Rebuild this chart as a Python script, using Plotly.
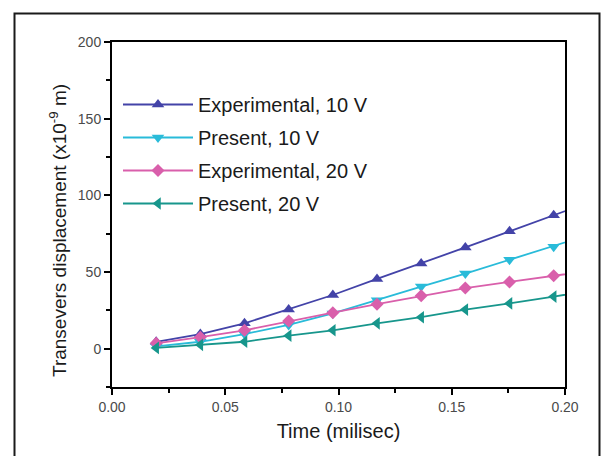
import plotly.graph_objects as go

# Data
time_ms = [0.0195, 0.039, 0.0585, 0.078, 0.0975, 0.117, 0.1365, 0.156, 0.1755, 0.195, 0.2145]
exp_10v = [4.5, 9.5, 16.5, 25.5, 35, 45.5, 55.5, 66, 76.5, 87, 97.5]
pres_10v = [1.5, 4.5, 9.5, 15.5, 23, 31.5, 40.5, 49, 58, 66.5, 76]
exp_20v = [3.5, 7.5, 12, 18, 23.5, 29, 34.5, 39.5, 43.5, 47.5, 51.5]
pres_20v = [0.5, 2.5, 4.5, 8.5, 12, 16.5, 20.5, 25.5, 29.5, 34, 38.5]

series_names = ["Experimental, 10 V", "Present, 10 V", "Experimental, 20 V", "Present, 20 V"]
series_values = [exp_10v, pres_10v, exp_20v, pres_20v]
colors = ["#4343a8", "#29bbd9", "#d95fab", "#17968c"]
symbols = ["triangle-up", "triangle-down", "diamond", "triangle-left"]
marker_sizes = [11, 11, 10, 11]

x_ticks = [0.00, 0.05, 0.10, 0.15, 0.20]
x_tick_labels = ["0.00", "0.05", "0.10", "0.15", "0.20"]
y_ticks = [0, 50, 100, 150, 200]
y_title = "Transevers displacement (x10<sup>-9</sup> m)"
x_title = "Time (milisec)"

fig = go.Figure()
for i, (name, vals) in enumerate(zip(series_names, series_values)):
    fig.add_trace(go.Scatter(
        x=time_ms, y=vals, name=name, mode="lines+markers",
        line=dict(color=colors[i], width=1.8),
        marker=dict(symbol=symbols[i], size=marker_sizes[i], color=colors[i]),
        legendgroup=f"g{i}", cliponaxis=True,
    ))

W, H = 601, 456
ml, mr, mt, mb = 112, 36, 42, 69
pw, ph = W - ml - mr, H - mt - mb

def px2paper_x(px):
    return (px - ml) / pw

def px2paper_y(py):
    return (H - mb - py) / ph

fig.update_layout(
    width=W, height=H,
    margin=dict(l=ml, r=mr, t=mt, b=mb, autoexpand=False),
    paper_bgcolor="white", plot_bgcolor="white",
    font=dict(family="Liberation Sans, Arial, sans-serif", color="#222"),
    showlegend=True,
    legend=dict(
        x=px2paper_x(118), y=px2paper_y(85), xanchor="left", yanchor="top",
        bgcolor="rgba(0,0,0,0)", font=dict(size=20, color="#1a1a1a"),
        tracegroupgap=4, itemwidth=70,
    ),
    xaxis=dict(
        range=[0, 0.2], tickvals=x_ticks, ticktext=x_tick_labels,
        showline=True, linecolor="black", linewidth=2, mirror=True,
        ticks="outside", ticklen=6, tickwidth=2, tickcolor="black",
        tickfont=dict(size=14, color="#4a4a4a"),
        minor=dict(ticks="outside", ticklen=4, tickwidth=2, dtick=0.025, tick0=0, tickcolor="black"),
        showgrid=False, zeroline=False,
        title=dict(text=x_title, font=dict(size=20, color="#1a1a1a"), standoff=10),
    ),
    yaxis=dict(
        range=[-25, 200], tickvals=y_ticks,
        showline=True, linecolor="black", linewidth=2, mirror=True,
        ticks="outside", ticklen=6, tickwidth=2, tickcolor="black",
        tickfont=dict(size=14, color="#4a4a4a"),
        minor=dict(ticks="outside", ticklen=4, tickwidth=2, dtick=25, tick0=0, tickcolor="black"),
        showgrid=False, zeroline=False,
    ),
    annotations=[dict(
        text=y_title, textangle=-90, xref="paper", yref="paper",
        x=px2paper_x(58), y=px2paper_y(231), xanchor="center", yanchor="middle",
        showarrow=False, font=dict(size=19, color="#1a1a1a"),
    )],
    shapes=[dict(
        type="rect", xref="paper", yref="paper",
        x0=px2paper_x(14.5), x1=px2paper_x(599.5),
        y0=px2paper_y(480), y1=px2paper_y(13.5),
        line=dict(color="#1a1a1a", width=2), fillcolor="rgba(0,0,0,0)", layer="below",
    )],
)

fig.write_html(
    "out.html",
    config={"displayModeBar": False},
    post_script="document.body.style.margin='0';document.body.style.overflow='hidden';",
)
